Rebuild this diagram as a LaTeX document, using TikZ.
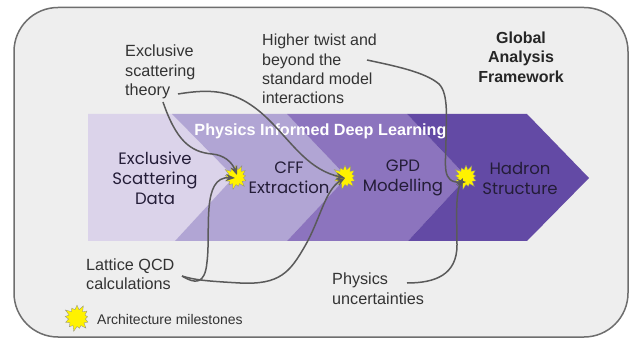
\documentclass[tikz,border=0pt]{standalone}
\usepackage{fontspec}
\setmainfont{Liberation Sans}
\newfontfamily\geofont{Poppins}
\usetikzlibrary{shapes.symbols,arrows.meta}
\definecolor{framebg}{HTML}{EEEEEE}
\definecolor{frameline}{HTML}{6E6E6E}
\definecolor{chevA}{HTML}{DBD3EA}
\definecolor{chevB}{HTML}{B1A5D4}
\definecolor{chevC}{HTML}{8C74BE}
\definecolor{chevD}{HTML}{634AA5}
\definecolor{inktext}{HTML}{333333}
\definecolor{darktext}{HTML}{241D38}
\definecolor{linkgray}{HTML}{5A5A5A}
\tikzset{
  sidelabel/.style={inner sep=0pt,text=inktext,align=left,font=\fontsize{16.2}{19.5}\selectfont},
  thinlabel/.style={inner sep=0pt,text=inktext,align=left,font=\fontsize{16}{19.3}\selectfont},
  stagelabel/.style={inner sep=0pt,text=darktext,align=center,font=\geofont\fontsize{16.5}{20}\selectfont},
  milestone/.style={starburst,starburst points=13,starburst point height=6pt,fill=yellow,draw=linkgray!70,line width=.3pt,minimum width=27pt,minimum height=27pt,inner sep=0pt},
  link/.style={draw=linkgray,line width=1.5pt,-{Stealth[length=9pt,width=7pt]}},
}
\begin{document}
\begin{tikzpicture}[x=1pt,y=-1pt]
\useasboundingbox (0,0) rectangle (632,339);
\fill[white] (0,0) rectangle (632,339);
\draw[fill=framebg,draw=frameline,line width=1.5pt,rounded corners=44pt] (14,7.5) rectangle (628,337);
\fill[chevA] (88,114) -- (172,114) -- (234,177) -- (175,241) -- (88,241) -- cycle;
\fill[chevB] (172,114) -- (287,114) -- (347,177) -- (287,241) -- (175,241) -- (234,177) -- cycle;
\fill[chevC] (287,114) -- (407,114) -- (467,177) -- (408,241) -- (287,241) -- (347,177) -- cycle;
\fill[chevD] (407,114) -- (527,114) -- (589,178) -- (527,241) -- (408,241) -- (467,177) -- cycle;

\node[inner sep=0pt,text=white,font=\bfseries\fontsize{16.2}{18}\selectfont] (title) at (320.5,131) {Physics Informed Deep Learning};
\node[stagelabel] (data) at (155,178) {Exclusive\\Scattering\\Data};
\node[stagelabel] (cff) at (289,178) {CFF\\Extraction};
\node[stagelabel] (gpd) at (403,178) {GPD\\Modelling};
\node[stagelabel] (hadron) at (520,178) {Hadron\\Structure};

\node[sidelabel,anchor=west] (theory) at (125,72) {Exclusive\\scattering\\theory};
\node[thinlabel,anchor=west] (twist) at (262,69) {Higher twist and\\beyond the\\standard model\\interactions};
\node[inner sep=0pt,align=center,text=black!85,font=\bfseries\fontsize{16}{19.5}\selectfont] (global) at (521,57) {Global\\Analysis\\Framework};
\node[sidelabel,anchor=west] (lattice) at (86,274) {Lattice QCD\\calculations};
\node[sidelabel,anchor=west] (uncert) at (332,288.5) {Physics\\uncertainties};
\node[inner sep=0pt,anchor=west,text=inktext,font=\fontsize{14}{15}\selectfont] (legend) at (97,319) {Architecture milestones};

\node[milestone] (m1) at (236,177) {};
\node[milestone] (m2) at (345,177) {};
\node[milestone] (m3) at (466,177) {};
\node[milestone,minimum width=29pt,minimum height=29pt] (m0) at (77,318) {};

\coordinate (theoryA) at (163,102);
\coordinate (theoryB) at (178,94);
\coordinate (twistA) at (367,60);
\coordinate (latticeA) at (182,276);
\coordinate (uncertA) at (407,283);

\draw[link] (theoryA) .. controls (176,140) and (190,152) .. (212,154) .. controls (224,155) and (232,162) .. (237,175);
\draw[link] (theoryB) .. controls (215,88) and (240,90) .. (272,123) .. controls (295,147) and (310,170) .. (345,178);
\draw[link] (twistA) .. controls (395,66) and (425,72) .. (439,84) .. controls (449,94) and (446,120) .. (446,140) .. controls (446,165) and (441,183) .. (466,182);
\draw[link] (latticeA) .. controls (195,284) and (205,285) .. (207,262) .. controls (211,230) and (201,176) .. (235,178);
\draw[link] (latticeA) .. controls (195,280) and (205,281) .. (240,283) .. controls (280,285) and (290,272) .. (305,246) .. controls (320,220) and (325,190) .. (345,178);
\draw[link] (uncertA) .. controls (435,283) and (457,275) .. (457,245) .. controls (457,220) and (455,195) .. (463,178);
\end{tikzpicture}
\end{document}
